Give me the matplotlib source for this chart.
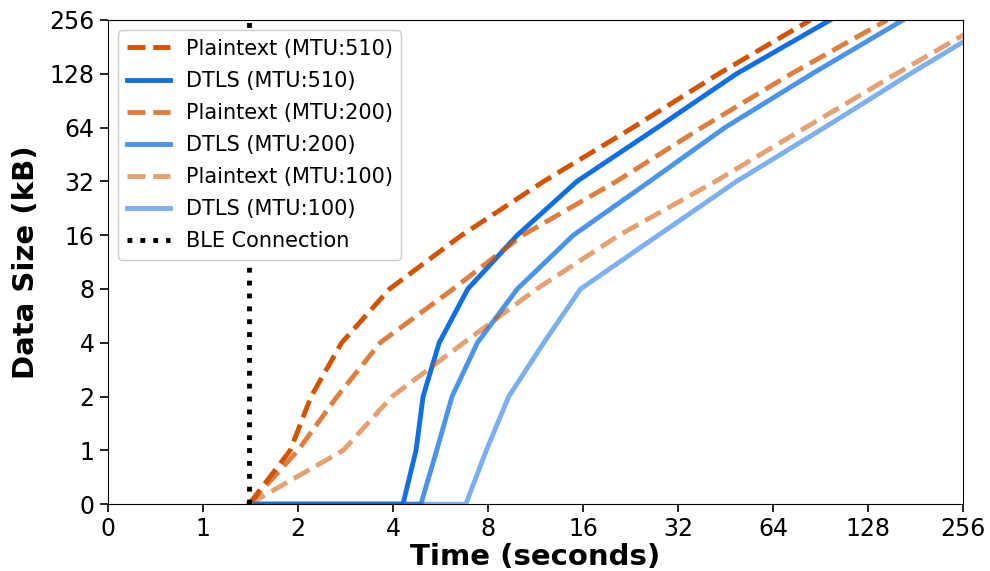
import matplotlib

matplotlib.use("Agg")
import matplotlib.pyplot as plt
from matplotlib.ticker import FixedLocator, NullLocator

# data sizes (kB) reached at each time (s)
SIZES = [0, 1, 2, 4, 8, 16, 32, 64, 128, 256]
BLE_CONNECT = 1.4

PLAIN_510 = [1.4, 1.89, 2.2, 2.75, 3.9, 6.6, 12.0, 23.0, 43.0, 84.0]
PLAIN_200 = [1.4, 2.0, 2.66, 3.64, 6.2, 10.3, 20.4, 38.0, 73.0, 147.0]
PLAIN_100 = [1.4, 2.78, 3.97, 6.7, 11.4, 20.8, 42.0, 81.0, 157.0, 310.0]

DTLS_START = [1.4, 1.4, 1.4]
DTLS_510 = [4.3, 4.73, 4.98, 5.6, 6.9, 9.9, 15.3, 27.5, 49.0, 97.0]
DTLS_200 = [4.9, 5.5, 6.15, 7.4, 9.9, 14.9, 26.0, 45.0, 85.0, 165.0]
DTLS_100 = [6.8, 7.9, 9.3, 12.0, 15.7, 27.7, 49.0, 93.0, 174.0, 333.0]

TICKS = [0, 1, 2, 4, 8, 16, 32, 64, 128, 256]

ORANGE = "#D35400"
BLUE = "#1070E3"

plt.rcParams.update({"font.family": "DejaVu Sans"})

fig = plt.figure(figsize=(9.9, 5.71), dpi=100)
ax = fig.add_axes([0.109, 0.117, 0.864, 0.848])

series = [
    ("Plaintext (MTU:510)", None, PLAIN_510, ORANGE, "--", 1.0),
    ("DTLS (MTU:510)", 0, DTLS_510, BLUE, "-", 1.0),
    ("Plaintext (MTU:200)", None, PLAIN_200, ORANGE, "--", 0.75),
    ("DTLS (MTU:200)", 1, DTLS_200, BLUE, "-", 0.75),
    ("Plaintext (MTU:100)", None, PLAIN_100, ORANGE, "--", 0.55),
    ("DTLS (MTU:100)", 2, DTLS_100, BLUE, "-", 0.55),
]
for label, start_idx, times, color, ls, alpha in series:
    xs = list(times)
    ys = list(SIZES)
    if start_idx is not None:
        xs = [DTLS_START[start_idx]] + xs
        ys = [0] + ys
    ax.plot(xs, ys, linestyle=ls, color=color, alpha=alpha, linewidth=3.5,
            label=label)

ax.plot([BLE_CONNECT, BLE_CONNECT], [0, 256], linestyle=":", color="black",
        linewidth=3.5, label="BLE Connection")

ax.set_xscale("symlog", base=2, linthresh=1, linscale=0.5)
ax.set_yscale("symlog", base=2, linthresh=1, linscale=0.5)
ax.set_xlim(0, 256)
ax.set_ylim(0, 256)
ax.xaxis.set_major_locator(FixedLocator(TICKS))
ax.yaxis.set_major_locator(FixedLocator(TICKS))
ax.set_xticklabels([str(t) for t in TICKS])
ax.set_yticklabels([str(t) for t in TICKS])
ax.xaxis.set_minor_locator(NullLocator())
ax.yaxis.set_minor_locator(NullLocator())
ax.tick_params(labelsize=17, length=6, width=1.2)

ax.set_xlabel("Time (seconds)", fontsize=21, fontweight="bold", labelpad=1)
ax.set_ylabel("Data Size (kB)", fontsize=21, fontweight="bold", labelpad=7)

ax.legend(loc="upper left", fontsize=15, handlelength=2.1, labelspacing=0.58,
          handletextpad=0.75, borderaxespad=0.5, framealpha=1.0)

fig.savefig("out.png", dpi=100)
